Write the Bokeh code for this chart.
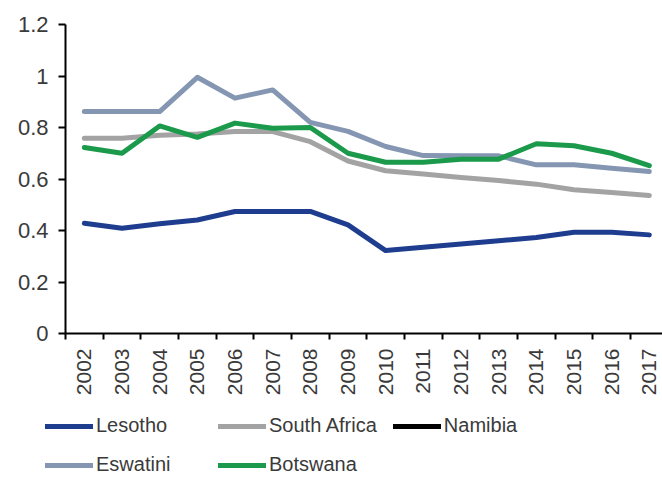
import math
from bokeh.plotting import figure
from bokeh.layouts import column
from bokeh.models import Range1d, FixedTicker, Legend, LegendItem
from bokeh.embed import file_html
from bokeh.resources import INLINE

years = list(range(2002, 2018))
lesotho = [0.428, 0.409, 0.426, 0.441, 0.474, 0.474, 0.474, 0.422, 0.322, 0.335,
           0.348, 0.360, 0.373, 0.393, 0.393, 0.383]
south_africa = [0.758, 0.758, 0.770, 0.775, 0.784, 0.784, 0.745, 0.670, 0.632, 0.619,
                0.606, 0.594, 0.580, 0.558, 0.548, 0.536]
namibia = []
eswatini = [0.862, 0.862, 0.862, 0.995, 0.914, 0.946, 0.820, 0.785, 0.726, 0.691,
            0.690, 0.690, 0.655, 0.655, 0.642, 0.629]
botswana = [0.722, 0.700, 0.806, 0.762, 0.817, 0.797, 0.800, 0.700, 0.665, 0.665,
            0.677, 0.677, 0.737, 0.729, 0.700, 0.652]
y_ticks = [0, 0.2, 0.4, 0.6, 0.8, 1.0, 1.2]
y_labels = ["0", "0.2", "0.4", "0.6", "0.8", "1", "1.2"]

FONT = "Liberation Sans"
TXT = "#3a3a3a"

p = figure(width=662, height=401, output_backend="svg", toolbar_location=None,
           x_range=Range1d(2001.5, 2017.35), y_range=Range1d(0, 1.2),
           min_border_left=65, min_border_right=0, min_border_top=24,
           min_border_bottom=68)
p.frame_align = False
p.outline_line_color = None
p.xgrid.grid_line_color = None
p.ygrid.grid_line_color = None
p.background_fill_color = "white"
p.border_fill_color = "white"

# x axis
xa = p.xaxis[0]
xa.ticker = FixedTicker(ticks=years, minor_ticks=[y - 0.5 for y in years] + [2017.5])
xa.major_tick_line_color = None
xa.major_tick_out = 0
xa.major_tick_in = 0
xa.minor_tick_in = 0
xa.minor_tick_out = 6
xa.minor_tick_line_color = "black"
xa.minor_tick_line_width = 2
xa.axis_line_color = "black"
xa.axis_line_width = 2
xa.major_label_orientation = math.pi / 2
xa.major_label_standoff = 9
xa.major_label_text_font = FONT
xa.major_label_text_font_size = "21px"
xa.major_label_text_color = TXT

# y axis
ya = p.yaxis[0]
ya.ticker = FixedTicker(ticks=y_ticks)
ya.major_label_overrides = {t: l for t, l in zip(y_ticks, y_labels)}
ya.minor_tick_line_color = None
ya.major_tick_in = 0
ya.major_tick_out = 7
ya.major_tick_line_color = "black"
ya.major_tick_line_width = 2
ya.axis_line_color = "black"
ya.axis_line_width = 2
ya.major_label_standoff = 10
ya.major_label_text_font = FONT
ya.major_label_text_font_size = "22px"
ya.major_label_text_color = TXT

series = [
    ("Lesotho", lesotho, "#1f3d8f"),
    ("South Africa", south_africa, "#a3a3a3"),
    ("Namibia", namibia, "#000000"),
    ("Eswatini", eswatini, "#8496b2"),
    ("Botswana", botswana, "#1a9a4a"),
]

# legend figure (legend only; its dummy renderers sit outside the visible range)
pl = figure(width=662, height=78, output_backend="svg", toolbar_location=None,
            x_range=Range1d(0, 1), y_range=Range1d(0, 1),
            min_border=0, x_axis_location=None, y_axis_location=None)
pl.frame_align = False
pl.outline_line_color = None
pl.xgrid.grid_line_color = None
pl.ygrid.grid_line_color = None
pl.border_fill_color = "white"

items = []
for name, vals, col in series:
    xs = years[:len(vals)]
    p.line(xs, vals, line_color=col, line_width=5, line_join="round", line_cap="round")
    rl = pl.line([-10, -9], [-10, -10], line_color=col, line_width=5, line_cap="round")
    items.append(LegendItem(label=name, renderers=[rl]))

legend = Legend(items=items, ncols=3, orientation="horizontal",
                location=(45, 3), padding=0, margin=0, spacing=16,
                glyph_width=48, glyph_height=22, label_standoff=3, label_width=106,
                label_text_font=FONT, label_text_font_size="20px",
                label_text_color=TXT, border_line_color=None,
                background_fill_alpha=0)
pl.add_layout(legend, "center")

layout = column(p, pl, spacing=0)
open("out.html", "w").write(file_html(layout, INLINE))
